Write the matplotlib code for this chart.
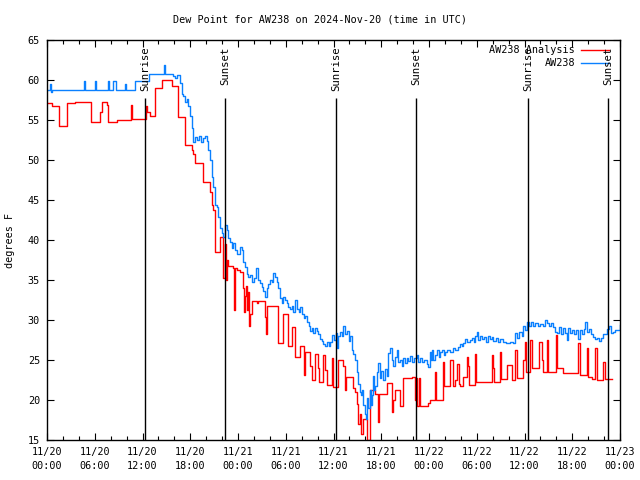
import matplotlib
matplotlib.use('Agg')
import matplotlib.pyplot as plt
from matplotlib.ticker import MultipleLocator

plt.rcParams['font.family'] = ['DejaVu Sans Mono', 'DejaVu Sans']

# hours since 2024-11-20 00:00 UTC
blue_t = [0.00, 0.38, 0.50, 0.63, 4.65, 4.78, 6.03, 6.16, 7.67, 7.79, 8.29, 8.67, 9.80, 9.93,
          11.06, 12.82, 14.70, 14.83, 15.83, 16.08, 16.34, 16.71, 16.96, 17.09, 17.34, 17.59,
          17.72, 17.97, 18.22, 18.35, 18.60, 18.85, 19.10, 19.35, 19.60, 19.85, 20.11, 20.23,
          20.48, 20.73, 20.86, 21.11, 21.36, 21.49, 21.74, 21.99, 22.12, 22.37, 22.62, 22.74,
          22.99, 23.25, 23.37, 23.62, 23.88, 24.25, 24.50, 24.63, 24.88, 25.13, 25.26, 25.51,
          25.76, 26.01, 26.26, 26.51, 26.77, 27.02, 27.14, 27.39, 27.65, 27.77, 28.02, 28.27,
          28.40, 28.65, 28.90, 29.03, 29.28, 29.53, 29.66, 29.91, 30.16, 30.28, 30.54, 30.79,
          30.91, 31.16, 31.42, 31.67, 31.79, 32.04, 32.30, 32.42, 32.67, 32.92, 33.05, 33.30,
          33.43, 33.68, 33.93, 34.05, 34.31, 34.56, 34.68, 34.93, 35.18, 35.44, 35.56, 35.81,
          36.07, 36.32, 36.44, 36.57, 36.82, 37.07, 37.20, 37.45, 37.70, 37.95, 38.08, 38.33,
          38.45, 38.70, 38.95, 39.08, 39.33, 39.46, 39.58, 39.71, 39.96, 40.09, 40.21, 40.34,
          40.59, 40.71, 40.84, 40.97, 41.09, 41.22, 41.47, 41.59, 41.85, 41.97, 42.22, 42.47,
          42.72, 42.85, 43.10, 43.35, 43.48, 43.73, 43.98, 44.11, 44.36, 44.61, 44.74, 44.99,
          45.24, 45.36, 45.62, 45.87, 46.12, 46.49, 46.62, 46.87, 47.12, 47.38, 47.75, 47.88,
          48.13, 48.25, 48.38, 48.51, 48.76, 49.01, 49.26, 49.38, 49.64, 49.89, 50.01, 50.26,
          50.64, 51.02, 51.27, 51.65, 51.90, 52.15, 52.27, 52.53, 52.78, 53.15, 53.41, 53.66,
          53.78, 54.03, 54.16, 54.41, 54.66, 54.91, 55.17, 55.42, 55.67, 55.92, 56.04, 56.42,
          56.67, 56.92, 57.30, 57.68, 58.18, 58.56, 58.81, 59.06, 59.31, 59.69, 59.81, 60.07,
          60.32, 60.57, 60.82, 61.07, 61.32, 61.70, 61.95, 62.33, 62.58, 62.83, 63.08, 63.33,
          63.58, 63.84, 64.09, 64.34, 64.59, 64.84, 65.09, 65.34, 65.47, 65.72, 65.97, 66.22,
          66.47, 66.72, 66.98, 67.23, 67.48, 67.61, 67.86, 68.11, 68.36, 68.61, 68.86, 69.11,
          69.36, 69.62, 69.87, 70.12, 70.37, 70.62, 70.87, 71.12, 71.37, 71.75, 72.00]
blue_v = [58.8, 59.5, 58.5, 58.8, 59.9, 58.8, 59.9, 58.8, 59.9, 58.8, 59.9, 58.8, 59.5, 58.8,
          59.9, 60.8, 61.9, 60.8, 60.5, 60.2, 60.6, 59.6, 58.3, 58.0, 57.3, 57.6,
          56.8, 55.5, 54.0, 52.3, 52.9, 52.5, 53.0, 52.2, 52.8, 53.0, 52.4, 51.2,
          50.0, 47.9, 46.6, 44.4, 44.1, 42.9, 41.5, 40.9, 40.4, 41.9, 41.2, 40.2,
          39.8, 39.0, 39.6, 38.8, 38.2, 39.1, 38.8, 37.2, 36.6, 35.8, 35.4, 35.6,
          34.8, 35.2, 36.5, 35.0, 34.6, 34.1, 33.6, 32.9, 34.0, 34.5, 35.0, 34.7,
          35.9, 35.4, 34.8, 34.0, 32.7, 32.1, 32.9, 32.5, 32.1, 31.6, 31.4, 31.8,
          31.0, 32.5, 31.4, 31.0, 31.6, 30.8, 30.2, 30.5, 29.7, 29.2, 28.6, 29.0,
          28.4, 29.0, 28.6, 28.2, 27.6, 27.4, 27.0, 26.7, 27.3, 26.8, 27.2, 28.1,
          27.5, 28.4, 26.5, 28.0, 28.5, 28.0, 29.2, 28.2, 28.6, 27.4, 28.0, 26.3,
          25.8, 25.0, 23.5, 22.0, 21.0, 20.6, 21.3, 19.4, 18.3, 17.6, 20.2, 19.0,
          21.2, 19.4, 20.6, 23.0, 21.2, 21.8, 23.5, 24.6, 22.8, 23.6, 22.5, 23.9,
          23.0, 25.9, 26.5, 25.0, 24.2, 25.4, 26.2, 24.8, 25.0, 24.2, 25.2, 24.6,
          25.2, 24.9, 25.5, 24.8, 25.3, 25.6, 24.8, 25.2, 24.8, 25.0, 24.5, 24.1,
          26.0, 25.0, 26.2, 25.0, 25.6, 26.2, 25.4, 26.0, 26.2, 25.6, 26.0, 26.2,
          26.0, 26.5, 26.3, 26.6, 27.0, 26.7, 27.1, 27.6, 27.2, 27.5, 27.8, 27.2,
          28.0, 28.5, 27.5, 28.0, 27.6, 27.9, 27.3, 28.0, 27.6, 27.9, 27.4, 27.8,
          27.2, 27.6, 27.2, 27.1, 27.3, 27.1, 28.4, 27.8, 28.5, 28.0, 29.2, 28.8,
          29.7, 29.2, 29.8, 29.2, 29.6, 29.3, 29.5, 29.2, 30.0, 29.6, 29.2, 29.6,
          29.1, 28.5, 28.4, 29.1, 28.2, 29.0, 28.4, 27.5, 29.0, 28.4, 28.8, 28.2,
          28.7, 27.6, 28.8, 28.3, 28.9, 29.8, 28.5, 28.9, 28.2, 27.9, 27.6, 27.8,
          27.4, 27.7, 28.3, 28.3, 28.9, 29.2, 28.4, 28.5, 28.7, 28.8, 29.4]

red_t = [0.00, 0.63, 1.51, 2.51, 3.52, 5.53, 6.66, 6.91, 7.54, 7.67, 8.80, 10.56, 10.68,
         12.44, 12.57, 12.94, 13.57, 14.45, 15.71, 16.46, 17.34, 18.22, 18.35, 18.60, 19.60,
         20.48, 20.73, 20.86, 21.11, 21.74, 22.12, 22.37, 22.49, 22.62, 22.74, 23.37, 23.50,
         23.62, 23.88, 24.25, 24.63, 24.76, 24.88, 25.01, 25.13, 25.26, 25.38, 25.51, 25.76,
         26.39, 26.51, 27.39, 27.52, 27.65, 29.03, 29.66, 30.28, 30.79, 31.16, 31.79, 32.30,
         32.42, 33.05, 33.30, 33.68, 34.05, 34.18, 34.68, 34.93, 35.18, 35.81, 35.94, 36.57,
         37.20, 37.45, 37.57, 38.45, 38.70, 38.95, 39.08, 39.33, 39.46, 39.71, 40.21, 40.59,
         41.22, 41.59, 41.72, 42.72, 43.35, 43.48, 43.73, 44.36, 44.74, 45.87, 46.24, 46.37,
         46.49, 46.74, 46.87, 47.88, 48.13, 48.76, 48.89, 49.76, 49.89, 50.64, 51.02, 51.27,
         51.52, 51.77, 51.90, 52.27, 52.78, 52.90, 53.03, 53.78, 53.91, 55.92, 56.04, 56.17,
         56.92, 57.05, 57.80, 58.43, 58.81, 59.06, 59.81, 60.07, 60.19, 60.69, 60.95, 61.82,
         62.20, 62.33, 62.83, 62.96, 63.96, 64.09, 64.84, 66.72, 66.98, 67.86, 67.98, 68.49,
         68.86, 69.11, 69.87, 70.12, 71.00]
red_v = [57.1, 56.7, 54.3, 57.1, 57.3, 54.8, 56.0, 57.3, 56.9, 54.8, 55.0, 56.9, 55.1,
         56.7, 56.0, 55.5, 59.0, 60.0, 59.2, 55.4, 51.9, 51.3, 50.8, 49.6, 47.3,
         46.0, 44.4, 43.8, 38.5, 40.4, 35.2, 39.5, 35.0, 37.5, 36.7, 36.5, 31.3,
         36.5, 36.2, 36.0, 34.0, 31.0, 33.0, 34.2, 31.2, 33.5, 29.2, 30.8, 32.4,
         32.1, 32.4, 30.4, 28.2, 31.7, 27.1, 30.7, 26.8, 29.1, 25.4, 26.7, 23.1,
         26.0, 24.3, 22.5, 25.8, 24.0, 22.2, 25.6, 23.8, 21.9, 25.2, 21.6, 25.0,
         24.2, 21.3, 22.9, 21.5, 21.0, 19.5, 17.0, 18.3, 15.8, 17.6, 15.0, 21.2,
         20.8, 17.2, 20.8, 22.1, 18.5, 20.0, 21.3, 19.2, 22.7, 22.9, 20.0, 22.7,
         19.2, 22.7, 19.2, 19.6, 20.0, 23.5, 20.0, 24.8, 21.7, 25.0, 21.7, 22.5,
         24.5, 22.0, 21.7, 22.9, 25.4, 24.2, 21.9, 25.8, 22.2, 25.6, 24.0, 22.3,
         26.0, 22.6, 24.4, 22.5, 26.3, 22.7, 25.0, 27.3, 23.5, 27.5, 24.0, 27.2,
         25.0, 23.5, 27.5, 23.5, 28.1, 24.0, 23.4, 27.1, 23.1, 26.5, 22.9, 22.6,
         26.5, 22.5, 24.8, 22.6, 22.6]

sun_t = [12.32, 22.37, 36.32, 46.37, 60.44, 70.50]
sun_labels = ['Sunrise', 'Sunset', 'Sunrise', 'Sunset', 'Sunrise', 'Sunset']

tick_hours = list(range(0, 73, 6))
tick_labels = ['11/20\n00:00', '11/20\n06:00', '11/20\n12:00', '11/20\n18:00',
               '11/21\n00:00', '11/21\n06:00', '11/21\n12:00', '11/21\n18:00',
               '11/22\n00:00', '11/22\n06:00', '11/22\n12:00', '11/22\n18:00',
               '11/23\n00:00']

series_names = ['AW238 Analysis', 'AW238']
red_c = '#ff0000'
blue_c = '#0a80ff'
FS = 7.3

fig = plt.figure(figsize=(6.4, 4.8), dpi=100)
ax = fig.add_axes([47/640, 40/480, 573/640, 400/480])

ax.plot(red_t, red_v, drawstyle='steps-post', color=red_c, lw=1.0)
ax.plot(blue_t, blue_v, drawstyle='steps-post', color=blue_c, lw=1.0)

ax.vlines(sun_t, 15, 57.8, color='black', lw=1.0)
for t, lab in zip(sun_t, sun_labels):
    ax.text(t, 64.2, lab, rotation=90, ha='center', va='top', fontsize=FS + 0.4)

ax.set_xlim(0, 72)
ax.set_ylim(15, 65)
ax.set_xticks(tick_hours)
ax.set_xticklabels(tick_labels, fontsize=FS, linespacing=1.45)
ax.xaxis.set_minor_locator(MultipleLocator(2))
ax.set_yticks(range(15, 66, 5))
ax.tick_params(axis='y', labelsize=FS)
ax.tick_params(which='major', direction='in', length=5, width=0.8, top=True, right=True)
ax.tick_params(which='minor', direction='in', length=3, width=0.8, top=True, right=True)
ax.tick_params(axis='x', pad=5)
ax.tick_params(axis='y', pad=5)
for s in ax.spines.values():
    s.set_linewidth(1.0)

ax.set_ylabel('degrees F', fontsize=FS, labelpad=9)
fig.text(0.5, 1 - 19/480, 'Dew Point for AW238 on 2024-Nov-20 (time in UTC)',
         ha='center', va='center', fontsize=FS)

# legend (gnuplot-style, right-justified text then sample)
for i, (name, c) in enumerate(zip(series_names, [red_c, blue_c])):
    yy = 0.975 - i * 0.0325
    ax.text(0.9215, yy, name, transform=ax.transAxes, ha='right', va='center', fontsize=FS)
    ax.plot([0.932, 0.981], [yy, yy], transform=ax.transAxes, color=c, lw=1.0)

fig.savefig('out.png', dpi=100)
